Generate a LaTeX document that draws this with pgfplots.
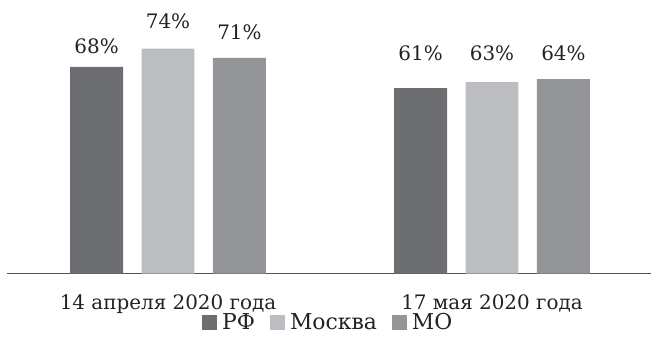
\documentclass[border=0pt]{standalone}
\usepackage{fontspec}
\setmainfont{DejaVu Serif}
\usepackage{pgfplots}
\usepackage{pgfplotstable}
\pgfplotsset{compat=1.18}
\definecolor{cRF}{HTML}{6D6E71}
\definecolor{cMos}{HTML}{BCBDC0}
\definecolor{cMO}{HTML}{949598}
\definecolor{axisgray}{HTML}{555555}
\definecolor{txt}{HTML}{222222}
% x = group, y = value, off = label offset above bar (bp)
\pgfplotstableread{
x y off
0 68 13.7
1 61 27.3
}\rf
\pgfplotstableread{
x y off
0 74 20.4
1 63 21.2
}\msk
\pgfplotstableread{
x y off
0 71 17.9
1 64 18.2
}\mo
\begin{document}
\fontsize{20}{24}\selectfont
\begin{tikzpicture}[x=1bp,y=1bp]
\path (-7,-75) rectangle (645,274);
\begin{axis}[
  at={(0,0)}, anchor=south west,
  scale only axis, width=645bp, height=274bp,
  ymin=0, ymax=90, xmin=-0.497, xmax=1.492,
  ybar=18.5bp, bar width=53bp,
  axis x line=bottom, axis y line=none,
  x axis line style={-, draw=axisgray, line width=1.2bp},
  xtick={0,1}, xticklabels={14 апреля 2020 года, 17 мая 2020 года},
  xtick style={draw=none}, major tick length=0pt,
  xticklabel style={anchor=base, yshift=-36bp, inner sep=0pt, text=txt},
  ytick=\empty,
  /pgf/number format/assume math mode=true,
  visualization depends on={\thisrow{off} \as \myoff},
  nodes near coords={\pgfmathprintnumber{\pgfplotspointmeta}\%},
  every node near coord/.append style={anchor=base, inner sep=0pt, yshift=\myoff bp, text=txt},
  legend columns=3,
  legend style={at={(0.4977,-0.179)}, anchor=center, draw=none, fill=none,
    font=\fontsize{22}{26}\selectfont,
    /tikz/every even column/.append style={column sep=14bp},
    nodes={inner sep=1bp, text=txt}},
  legend image code/.code={\fill[#1] (0bp,-7bp) rectangle (15bp,8bp);
    \path (0bp,0bp) -- (19bp,0bp);},
]
\addplot[fill=cRF, draw=none] table[x=x, y=y] {\rf};
\addplot[fill=cMos, draw=none] table[x=x, y=y] {\msk};
\addplot[fill=cMO, draw=none] table[x=x, y=y] {\mo};
\legend{РФ, Москва, МО}
\end{axis}
\end{tikzpicture}
\end{document}
